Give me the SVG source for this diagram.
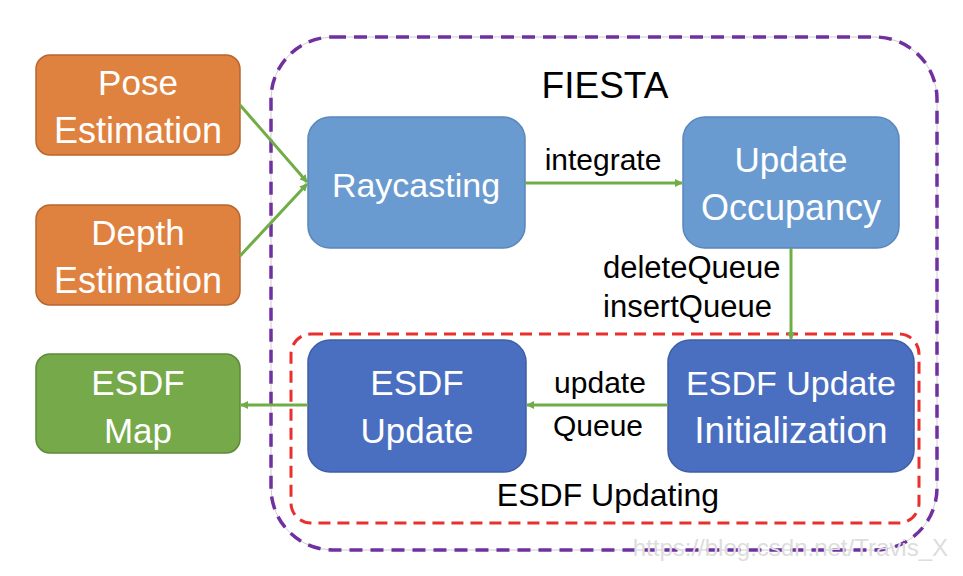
<svg xmlns="http://www.w3.org/2000/svg" width="963" height="576" viewBox="0 0 963 576">
<defs>
<marker id="ah" markerWidth="8" markerHeight="8" refX="7" refY="4" orient="auto" markerUnits="userSpaceOnUse">
<path d="M0,0 L8,4 L0,8 Z" fill="#70AD47"/>
</marker>
<style>
text{font-family:"Liberation Sans",Arial,sans-serif}
.w{fill:#fff;text-anchor:middle}
.k{fill:#000;text-anchor:middle}
.or{fill:#DF823F;stroke:#B8662E;stroke-width:1.5}
.gr{fill:#76A94A;stroke:#5C8A36;stroke-width:1.5}
.lb{fill:#6A9BD0;stroke:#5A87BC;stroke-width:1.5}
.db{fill:#4A6FC0;stroke:#3E5FA8;stroke-width:1.5}
.c{stroke:#70AD47;stroke-width:3;fill:none;marker-end:url(#ah)}
</style>
</defs>
<rect width="963" height="576" fill="#fff"/>
<g id="fiesta">
<rect x="271" y="37" width="666" height="513" rx="62" fill="none" stroke="#ccc" stroke-width="1"/>
<rect x="271" y="37" width="666" height="513" rx="62" fill="none" stroke="#7030A0" stroke-width="3.5" stroke-dasharray="13,8"/>
<text class="k" x="605" y="98" font-size="37">FIESTA</text>
</g>
<g id="esdf-updating">
<rect x="291" y="334" width="628" height="189" rx="20" fill="none" stroke="#E8302E" stroke-width="3" stroke-dasharray="12,7"/>
<text class="k" x="608" y="506" font-size="32">ESDF Updating</text>
</g>
<g id="pose">
<rect class="or" x="36" y="55" width="204" height="100" rx="14"/>
<text class="w" x="138" y="95" font-size="35">Pose</text>
<text class="w" x="138" y="143" font-size="36">Estimation</text>
</g>
<g id="depth">
<rect class="or" x="36" y="205" width="204" height="100" rx="14"/>
<text class="w" x="138" y="245" font-size="35">Depth</text>
<text class="w" x="138" y="293" font-size="36">Estimation</text>
</g>
<g id="esdf-map">
<rect class="gr" x="36" y="354" width="204" height="99" rx="14"/>
<text class="w" x="138" y="395" font-size="35">ESDF</text>
<text class="w" x="138" y="443" font-size="35">Map</text>
</g>
<g id="raycasting">
<rect class="lb" x="308" y="117" width="217" height="131" rx="22"/>
<text class="w" x="416" y="197" font-size="34">Raycasting</text>
</g>
<g id="update-occupancy">
<rect class="lb" x="683" y="117" width="216" height="131" rx="22"/>
<text class="w" x="791" y="172" font-size="35">Update</text>
<text class="w" x="791" y="220" font-size="36">Occupancy</text>
</g>
<g id="esdf-update">
<rect class="db" x="308" y="340" width="218" height="132" rx="22"/>
<text class="w" x="417" y="395" font-size="35">ESDF</text>
<text class="w" x="417" y="443" font-size="35">Update</text>
</g>
<g id="esdf-init">
<rect class="db" x="668" y="340" width="246" height="132" rx="22"/>
<text class="w" x="791" y="395" font-size="34">ESDF Update</text>
<text class="w" x="791" y="443" font-size="37">Initialization</text>
</g>
<g id="connectors">
<line class="c" x1="240" y1="105" x2="307" y2="182"/>
<line class="c" x1="240" y1="256" x2="307" y2="184"/>
<line class="c" x1="525" y1="183" x2="682" y2="183"/>
<line class="c" x1="791" y1="248" x2="791" y2="339"/>
<line class="c" x1="668" y1="405" x2="527" y2="405"/>
<line class="c" x1="308" y1="405" x2="241" y2="405"/>
<text class="k" x="603" y="170" font-size="30">integrate</text>
<text x="603" y="278" font-size="31" fill="#000">deleteQueue</text>
<text x="603" y="317" font-size="31" fill="#000">insertQueue</text>
<text class="k" x="600" y="393" font-size="30">update</text>
<text class="k" x="598" y="436" font-size="30">Queue</text>
</g>
<text x="948" y="556" font-size="24" fill="#ddd" text-anchor="end">https://blog.csdn.net/Travis_X</text>
</svg>
